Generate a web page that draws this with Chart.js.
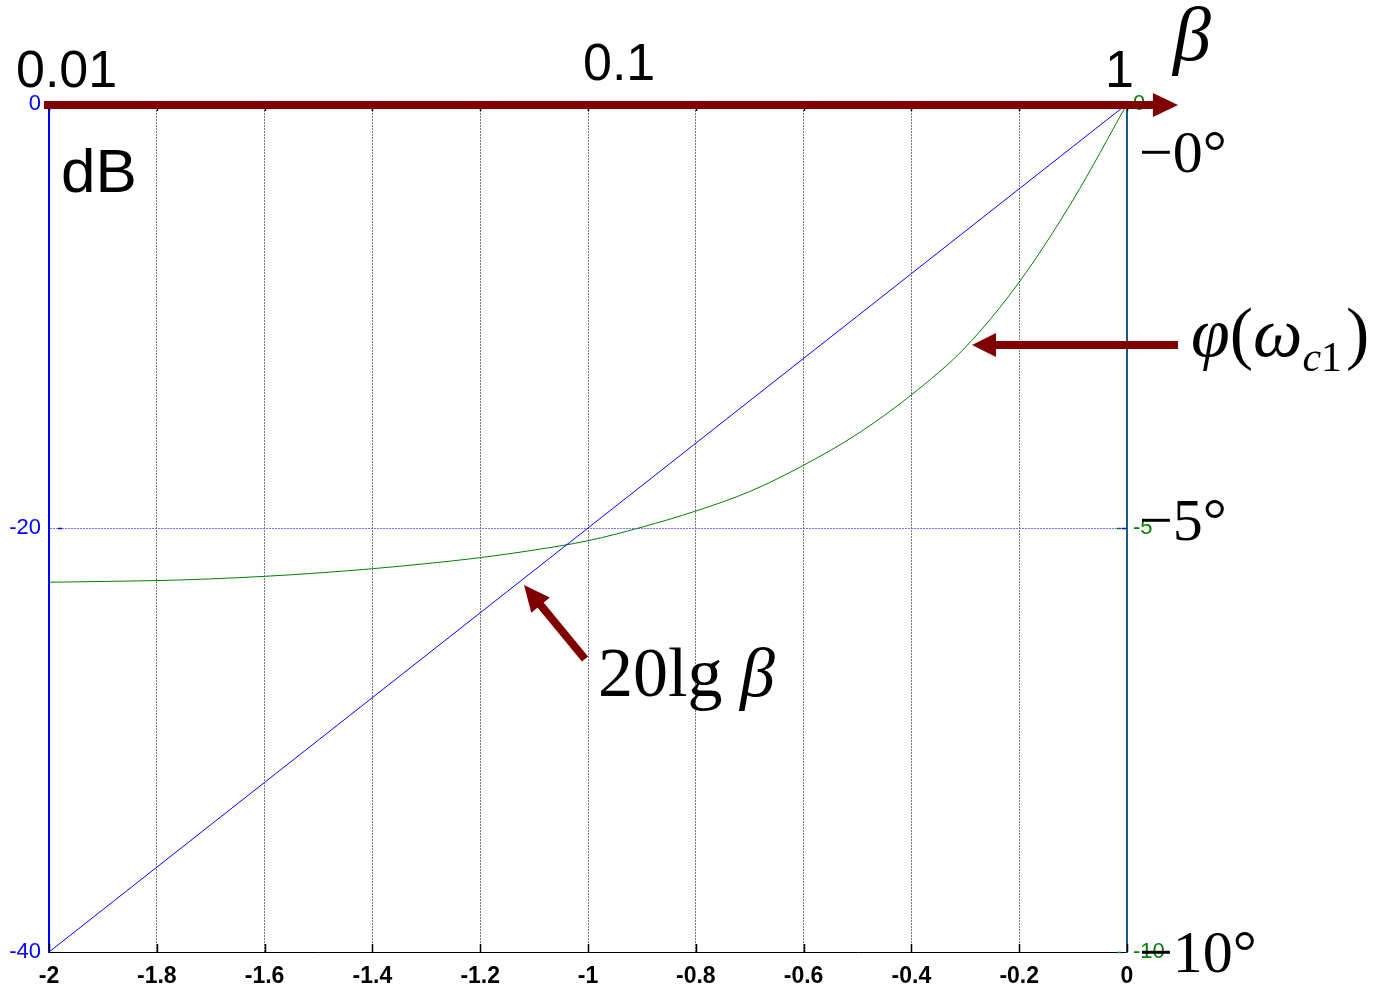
<!DOCTYPE html>
<html>
<head>
<meta charset="utf-8">
<script src="https://cdn.jsdelivr.net/npm/chart.js@4.4.1/dist/chart.umd.min.js"></script>
<style>
  html, body { margin: 0; padding: 0; background: #ffffff; }
  #wrap { width: 1387px; height: 988px; }
</style>
</head>
<body>
<div id="wrap"><canvas id="c" width="1387" height="988"></canvas></div>
<script>
// lg(beta) on the horizontal axis
const lgBeta = [-2.0, -1.9, -1.8, -1.7, -1.6, -1.5, -1.4, -1.3, -1.2, -1.1, -1.0,
                -0.9, -0.8, -0.7, -0.6, -0.5, -0.4, -0.3, -0.2, -0.1, 0.0];
// 20 lg(beta) in dB (left axis)
const gainDb = [-40, -38, -36, -34, -32, -30, -28, -26, -24, -22, -20,
                -18, -16, -14, -12, -10, -8, -6, -4, -2, 0];
// phase phi(omega_c1) in degrees (right axis)
const phaseDeg = [-5.64, -5.63, -5.62, -5.60, -5.57, -5.53, -5.48, -5.42, -5.35, -5.26, -5.15,
                  -4.99, -4.80, -4.57, -4.26, -3.89, -3.43, -2.87, -2.10, -1.13, 0.0];
// beta values marked along the top arrow
const topTickValues = [-2, -1, 0];
const topTickLabels = ['0.01', '0.1', '1'];
// degree marks beside the right axis
const degreeMarkValues = [0, -5, -10];
const degreeMarkLabels = ['\u22120\u00b0', '\u22125\u00b0', '\u221210\u00b0'];

const DARK_RED = '#800000';
const SANS = '"Liberation Sans", Arial, sans-serif';
const SERIF = '"Liberation Serif", "Times New Roman", serif';

const gainPts = lgBeta.map((x, i) => ({ x, y: gainDb[i] }));
const phasePts = lgBeta.map((x, i) => ({ x, y: phaseDeg[i] }));

function fmt(v) { return String(Number(Number(v).toFixed(1))); }

function arrow(ctx, x0, y0, x1, y1, shaft, headLen, headHalf) {
  const dx = x1 - x0, dy = y1 - y0;
  const L = Math.hypot(dx, dy);
  const ux = dx / L, uy = dy / L;
  const nx = -uy, ny = ux;
  const bx = x1 - ux * headLen, by = y1 - uy * headLen;
  ctx.save();
  ctx.strokeStyle = DARK_RED;
  ctx.fillStyle = DARK_RED;
  ctx.lineWidth = shaft;
  ctx.lineCap = 'butt';
  ctx.beginPath();
  ctx.moveTo(x0, y0);
  ctx.lineTo(bx + ux * 1, by + uy * 1);
  ctx.stroke();
  ctx.beginPath();
  ctx.moveTo(x1, y1);
  ctx.lineTo(bx + nx * headHalf, by + ny * headHalf);
  ctx.lineTo(bx - nx * headHalf, by - ny * headHalf);
  ctx.closePath();
  ctx.fill();
  ctx.restore();
}

const decorations = {
  id: 'decorations',
  afterDraw(chart) {
    const ctx = chart.ctx;
    const xs = chart.scales.x, yl = chart.scales.y, yr = chart.scales.y2;
    const area = chart.chartArea;
    ctx.save();

    // small inner tick marks on top and bottom edges
    ctx.strokeStyle = '#000';
    ctx.lineWidth = 1.5;
    xs.ticks.forEach(t => {
      const px = Math.round(xs.getPixelForValue(t.value)) + 0.5;
      ctx.beginPath();
      ctx.moveTo(px, area.top); ctx.lineTo(px, area.top + 7);
      ctx.moveTo(px, area.bottom); ctx.lineTo(px, area.bottom - 8);
      ctx.stroke();
    });
    // left / right value ticks at the middle gridline
    const ym = Math.round(yl.getPixelForValue(-20)) + 0.5;
    ctx.lineWidth = 1.5;
    ctx.strokeStyle = '#0000ff';
    ctx.beginPath(); ctx.moveTo(area.left + 9, ym); ctx.lineTo(area.left + 13, ym); ctx.stroke();
    ctx.beginPath(); ctx.moveTo(area.right - 5, ym); ctx.lineTo(area.right - 1, ym); ctx.stroke();
    ctx.strokeStyle = '#008000';
    [-5, -10].forEach(v => {
      const yy = Math.round(yr.getPixelForValue(v)) + 0.5;
      ctx.beginPath(); ctx.moveTo(area.right - 10, yy); ctx.lineTo(area.right - 6, yy); ctx.stroke();
    });

    // top beta axis arrow
    const y0 = yl.getPixelForValue(0) + 1;
    arrow(ctx, area.left - 5, y0, area.right + 51, y0, 8, 25, 12);

    // beta labels above the arrow
    ctx.fillStyle = '#000';
    ctx.textBaseline = 'alphabetic';
    ctx.font = '52px ' + SANS;
    ctx.textAlign = 'left';
    const topLeftOffsets = [-33, -5, -22];
    const topBaselines = [87, 80, 87];
    topTickValues.forEach((v, i) => {
      const px = xs.getPixelForValue(v);
      ctx.fillText(topTickLabels[i], px + topLeftOffsets[i], topBaselines[i]);
    });

    // beta symbol
    ctx.font = 'italic 76px ' + SERIF;
    ctx.fillText('\u03b2', area.right + 46, 60);

    // dB unit
    ctx.font = '62px ' + SANS;
    ctx.fillText('dB', area.left + 12, 192);

    // degree marks on the right
    ctx.font = '60px ' + SERIF;
    const degBaselineOffsets = [68, 12, 20];
    degreeMarkValues.forEach((v, i) => {
      const py = yr.getPixelForValue(v);
      ctx.fillText(degreeMarkLabels[i], area.right + 12, py + degBaselineOffsets[i]);
    });

    // phi(omega_c1) label with its arrow
    const phiY = 356;
    arrow(ctx, area.right + 51, 345, area.right - 155, 345, 8, 24, 12);
    let cx = area.right + 64;
    const piece = (txt, font, yb) => {
      ctx.font = font;
      ctx.fillText(txt, cx, yb);
      cx += ctx.measureText(txt).width;
    };
    piece('\u03c6', 'italic 70px ' + SERIF, phiY);
    piece('(', '70px ' + SERIF, phiY);
    piece('\u03c9', 'italic 70px ' + SERIF, phiY);
    piece('c', 'italic 42px ' + SERIF, phiY + 15);
    piece('1', '42px ' + SERIF, phiY + 15);
    cx += 4;
    piece(')', '70px ' + SERIF, phiY);

    // 20lg beta label with its arrow
    arrow(ctx, 585, 659, 524, 585, 8, 26, 12);
    cx = 598;
    piece('20lg ', '70px ' + SERIF, 696);
    piece('\u03b2', 'italic 70px ' + SERIF, 696);

    ctx.restore();
  }
};

new Chart(document.getElementById('c'), {
  type: 'line',
  data: {
    datasets: [
      {
        label: '20lg \u03b2',
        data: gainPts,
        yAxisID: 'y',
        borderColor: '#0000ff',
        borderWidth: 1,
        pointRadius: 0,
        tension: 0
      },
      {
        label: '\u03c6(\u03c9c1)',
        data: phasePts,
        yAxisID: 'y2',
        borderColor: '#008000',
        borderWidth: 1,
        pointRadius: 0,
        cubicInterpolationMode: 'monotone'
      }
    ]
  },
  options: {
    responsive: false,
    animation: false,
    devicePixelRatio: 1,
    layout: { padding: { top: 104, left: 0, right: 0, bottom: 0 } },
    plugins: { legend: { display: false }, tooltip: { enabled: false }, title: { display: false } },
    scales: {
      x: {
        type: 'linear',
        position: 'bottom',
        min: -2, max: 0,
        ticks: {
          stepSize: 0.2,
          color: '#000',
          font: { family: SANS, size: 23, weight: 'bold' },
          padding: 11,
          maxRotation: 0,
          autoSkip: false,
          callback: v => fmt(v)
        },
        grid: {
          drawTicks: false,
          color: ctx => (ctx.tick && (Math.abs(ctx.tick.value) < 1e-9 || Math.abs(ctx.tick.value + 2) < 1e-9)) ? 'rgba(0,0,0,0)' : '#777777',
          lineWidth: 1
        },
        border: { color: '#000', width: 1, dash: [2, 1] },
        afterFit: s => { s.height = 36; }
      },
      y: {
        type: 'linear',
        position: 'left',
        min: -40, max: 0,
        ticks: {
          stepSize: 20,
          color: '#0000ff',
          font: { family: SANS, size: 22 },
          padding: 8,
          callback: v => fmt(v)
        },
        grid: {
          drawTicks: false,
          color: ctx => (ctx.tick && Math.abs(ctx.tick.value + 20) < 1e-9) ? 'rgba(70,70,255,0.75)' : 'rgba(0,0,0,0)',
          lineWidth: 1
        },
        border: { color: '#0000ff', width: 2, dash: [2, 1] },
        afterFit: s => { s.width = 49; }
      },
      y2: {
        type: 'linear',
        position: 'right',
        min: -10, max: 0,
        ticks: {
          stepSize: 5,
          color: '#008000',
          font: { family: SANS, size: 22 },
          padding: 6,
          callback: v => fmt(v)
        },
        grid: { display: false, drawTicks: false },
        border: { color: '#1f5a80', width: 2 },
        afterFit: s => { s.width = 260; }
      }
    }
  },
  plugins: [decorations]
});
</script>
</body>
</html>
